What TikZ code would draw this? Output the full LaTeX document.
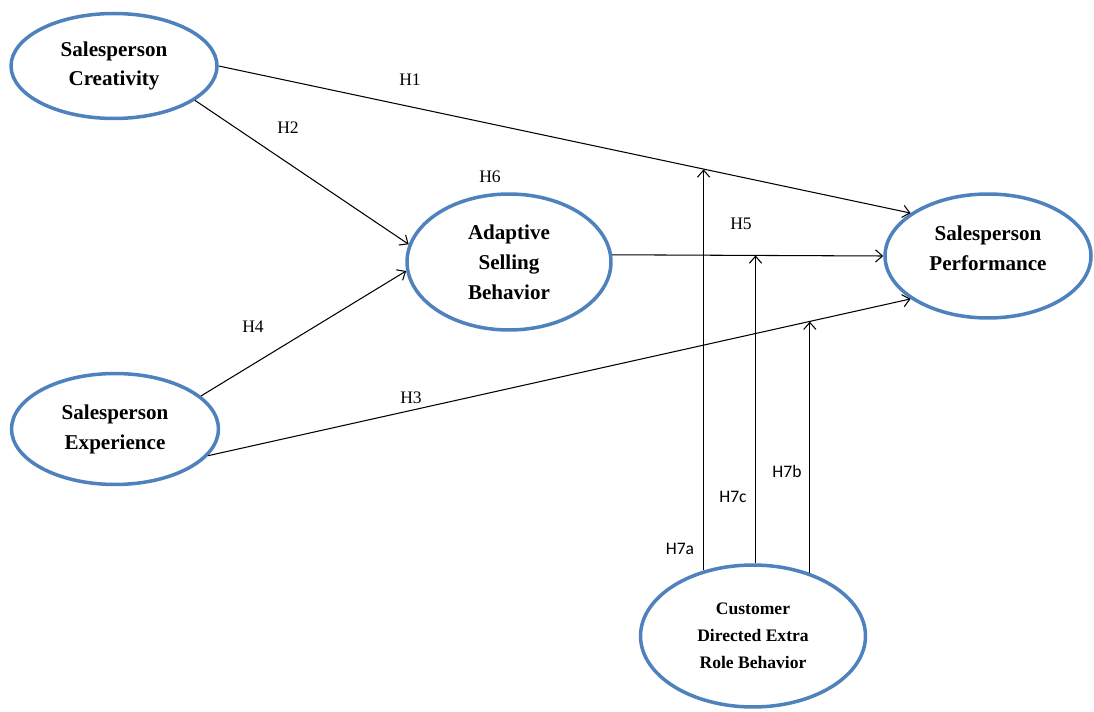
\documentclass[tikz,border=0pt]{standalone}
\usepackage{fontspec}
\setmainfont{Liberation Serif}
\newfontfamily\calib{Carlito}
\usetikzlibrary{shapes.geometric,arrows.meta}
\definecolor{ellblue}{RGB}{79,129,189}
\begin{document}
\begin{tikzpicture}[x=0.02cm,y=-0.02cm,
 var/.style={ellipse,draw=ellblue,line width=2pt,inner sep=0pt,align=center,font=\fontsize{12}{17}\selectfont\bfseries},
 vtext/.style={align=center,inner sep=0pt,font=\fontsize{12}{17}\selectfont\bfseries},
 arr/.style={-{Straight Barb[length=4pt,width=7pt]},line width=0.6pt},
 hlab/.style={font=\fontsize{10}{12}\selectfont},
 hsans/.style={font=\calib\fontsize{10}{12}\selectfont}]
\useasboundingbox (0,0) rectangle (1094,712);

\node[var,minimum width=4.12cm,minimum height=2.1cm] (cre) at (114,66) {Salesperson\\Creativity};
\node[var,minimum width=4.14cm,minimum height=2.22cm] (exp) at (115,429) {Salesperson\\Experience};
\node[var,minimum width=4.08cm,minimum height=2.72cm] (asb) at (509,262) {Adaptive\\Selling\\Behavior};
\node[var,minimum width=4.12cm,minimum height=2.48cm] (perf) at (988,256) {};
\node[vtext] (perfT) at (988,248) {Salesperson\\Performance};
\node[var,minimum width=4.5cm,minimum height=2.84cm,font=\fontsize{10}{15.5}\selectfont\bfseries] (cust) at (753,636) {Customer\\Directed Extra\\Role Behavior};

\draw[arr] (cre.east) -- coordinate[pos=0.703] (pa) (perf.151);
\draw[arr] (cre.-23) -- (asb.170);
\draw[arr] (exp.21) -- (asb.185);
\draw[arr] (exp.-16) -- coordinate[pos=0.855] (pb) (perf.209);
\draw[arr] (asb.4) -- coordinate[pos=0.533] (pc) (perf.west);

\draw[arr] (cust.127) -- (cust.127 |- pa);
\draw[arr] (cust.88) -- (cust.88 |- pc);
\draw[arr] (cust.48) -- (cust.48 |- pb);

\node[hlab] (l1) at (410,80) {H1};
\node[hlab] (l2) at (288,128) {H2};
\node[hlab] (l6) at (490,177) {H6};
\node[hlab] (l5) at (741,224) {H5};
\node[hlab] (l4) at (253,327) {H4};
\node[hlab] (l3) at (411,398) {H3};
\node[hsans] (l7a) at (680,549) {H7a};
\node[hsans] (l7c) at (733,497) {H7c};
\node[hsans] (l7b) at (787,471) {H7b};
\end{tikzpicture}
\end{document}
